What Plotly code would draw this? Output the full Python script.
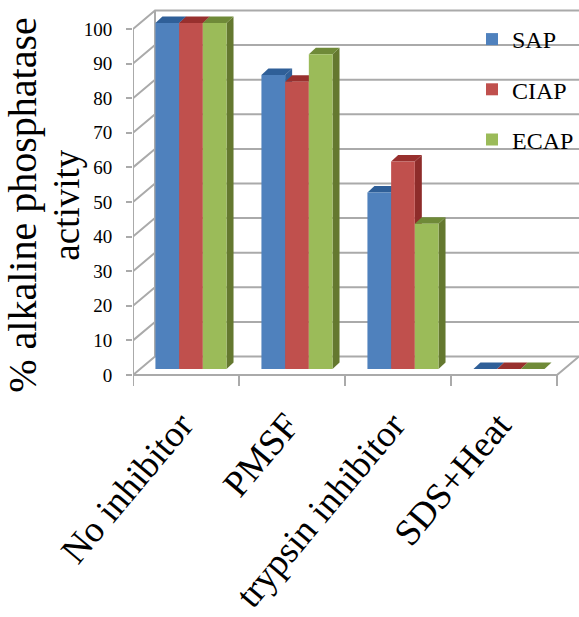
import plotly.graph_objects as go

categories = ["No inhibitor", "PMSF", "trypsin inhibitor", "SDS+Heat"]
series_names = ["SAP", "CIAP", "ECAP"]
sap = [100, 85, 51, 0]
ciap = [100, 83, 60, 0]
ecap = [100, 91, 42, 0]
y_ticks = [0, 10, 20, 30, 40, 50, 60, 70, 80, 90, 100]

face = ["#4f81bd", "#c0504d", "#9bbb59"]
top = ["#2f5f98", "#98302e", "#6f8a38"]
side = ["#2f5f98", "#8e2c2a", "#64782f"]
grid = "#aaaaaa"
font = "Liberation Serif"

PX_X, PX_Y = 106.0, 3.46
wall_dx, wall_dy = 22 / PX_X, 18.5 / PX_Y
bar_dx, bar_dy = 7 / PX_X, 6.5 / PX_Y
floor = 6 / PX_Y
bar_w = 23.7 / PX_X
shift = 0.547
x_max = 446 / PX_X
y_min, y_max = -30 / PX_Y, 370 / PX_Y

fig = go.Figure()

# walls, floor and gridlines
gx, gy = [], []
for v in y_ticks:
    gx += [0, wall_dx, x_max, None]
    gy += [v, v + wall_dy, v + wall_dy, None]
gx += [wall_dx, wall_dx, None, 0, 0, None, 0, 4, 4 + wall_dx, None]
gy += [wall_dy, 100 + wall_dy, None, 0, 100, None, 0, 0, wall_dy, None]
for i in range(5):
    gx += [i, i, None]
    gy += [0, -11 / PX_Y, None]
fig.add_trace(go.Scatter(x=gx, y=gy, mode="lines", line=dict(color=grid, width=2),
                         showlegend=False, hoverinfo="skip", cliponaxis=False))

# depth faces, painted from the left series to the right one
for k, vals in enumerate([sap, ciap, ecap]):
    for i, v in enumerate(vals):
        x0 = i + shift - 1.5 * bar_w + k * bar_w
        x1 = x0 + bar_w
        b = floor
        fig.add_trace(go.Scatter(
            x=[x1, x1 + bar_dx, x1 + bar_dx, x1, x1],
            y=[b, b + bar_dy, b + v + bar_dy, b + v, b],
            fill="toself", fillcolor=side[k], mode="none",
            showlegend=False, hoverinfo="skip"))
        fig.add_trace(go.Scatter(
            x=[x0, x1, x1 + bar_dx, x0 + bar_dx, x0],
            y=[b + v, b + v, b + v + bar_dy, b + v + bar_dy, b + v],
            fill="toself", fillcolor=top[k], mode="none",
            showlegend=False, hoverinfo="skip"))

# front faces, on an overlaid pair of axes so they sit above the depth faces
for k, (name, vals) in enumerate(zip(series_names, [sap, ciap, ecap])):
    fig.add_trace(go.Bar(
        x=[i + shift for i in range(len(categories))], y=vals, base=floor, name=name,
        marker=dict(color=face[k], line=dict(width=0)),
        xaxis="x2", yaxis="y2", legendgroup=name))

fig.update_layout(
    width=579, height=617,
    margin=dict(l=133, r=0, t=5, b=212, autoexpand=False),
    paper_bgcolor="white", plot_bgcolor="white",
    barmode="group", bargap=1 - 3 * bar_w, bargroupgap=0,
    font=dict(family=font, color="black"),
    hovermode=False,
    legend=dict(x=1, y=0.97, xanchor="right", yanchor="top", bgcolor="rgba(0,0,0,0)",
                font=dict(size=24, family=font), tracegroupgap=16, itemwidth=30),
    xaxis=dict(range=[0, x_max], showgrid=False, zeroline=False, showline=False,
               automargin=False, ticklabelstandoff=-10,
               tickmode="array", tickvals=[i + 0.45 for i in range(len(categories))],
               ticktext=categories, tickangle=-50, ticks="",
               tickfont=dict(size=37, family=font)),
    yaxis=dict(range=[y_min, y_max], showgrid=False, zeroline=False, showline=False,
               automargin=False,
               tickmode="array", tickvals=y_ticks, ticks="outside", ticklen=6,
               tickcolor=grid, tickwidth=2, ticklabelstandoff=10,
               tickfont=dict(size=19, family=font),
               title=dict(text="% alkaline phosphatase", standoff=43,
                          font=dict(size=40, family=font))),
    xaxis2=dict(range=[0, x_max], overlaying="x", visible=False),
    yaxis2=dict(range=[y_min, y_max], overlaying="y", visible=False),
    annotations=[dict(text="activity", textangle=-90, xref="paper", yref="paper",
                      x=-0.151, y=0.5, xanchor="center", yanchor="middle", showarrow=False,
                      font=dict(size=37, family=font))],
)

fig.write_html("out.html", config=dict(displayModeBar=False),
               post_script="document.body.style.margin='0';")
